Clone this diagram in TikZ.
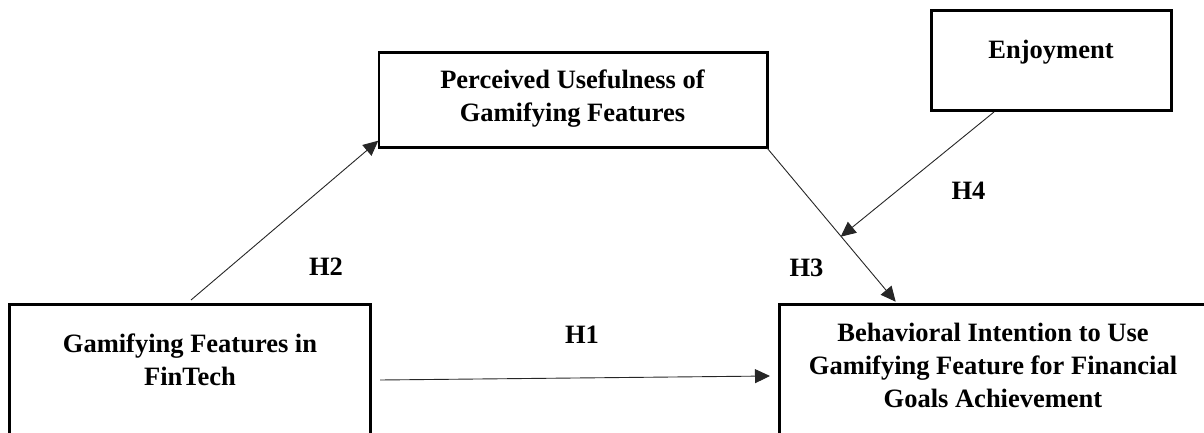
\documentclass[tikz,border=0pt]{standalone}
\usepackage{fontspec}
\setmainfont{Liberation Serif}
\usetikzlibrary{arrows.meta}
\tikzset{
  box/.style={draw=black, line width=2.6pt, rectangle, inner sep=0pt, outer sep=0pt, anchor=north west},
  txt/.style={inner sep=0pt, outer sep=0pt, align=center, font=\bfseries\fontsize{26.5}{33}\selectfont},
  conn/.style={draw=black!85, line width=0.9pt, -{Triangle[length=15pt,width=14pt]}}
}
\begin{document}
\begin{tikzpicture}[x=1pt,y=-1pt]
\useasboundingbox (0,0) rectangle (1204,433);
\clip (0,0) rectangle (1204,433);
% boxes
\node[box, minimum width=361.2pt, minimum height=170pt] (g) at (9.5,304.5) {};
\node[box, minimum width=430pt, minimum height=170pt] (b) at (779.5,304.7) {};
\node[box, minimum width=388.5pt, minimum height=95pt] (p) at (378.8,52.3) {};
\node[box, minimum width=240pt, minimum height=100pt] (e) at (931.3,10.7) {};
% texts
\node[txt, anchor=north] (gt) at (190,333.7) {Gamifying Features in\\FinTech};
\node[txt, anchor=north] (pt) at (572.5,70) {Perceived Usefulness of\\Gamifying Features};
\node[txt, anchor=base] (et) at (1051,59) {Enjoyment};
\node[txt, anchor=north] (bt) at (993,323.4) {Behavioral Intention to Use\\Gamifying Feature for Financial\\Goals Achievement};
% labels
\node[txt, anchor=base] (h1) at (582,343) {H1};
\node[txt, anchor=base] (h2) at (326,275) {H2};
\node[txt, anchor=base] (h3) at (806.5,276) {H3};
\node[txt, anchor=base] (h4) at (968.5,199) {H4};
% connector points
\coordinate (g2) at (191,300);
\coordinate (p2) at (378.3,140.7);
\coordinate (p3) at (767.3,148.3);
\coordinate (b3) at (895.7,301.7);
\coordinate (e4) at (994,112);
\coordinate (m4) at (840.7,236.7);
\coordinate (g1) at (380,380);
\coordinate (b1) at (770,376);
% connectors
\draw[conn] (g1) -- (b1);
\draw[conn] (g2) -- (p2);
\draw[conn] (p3) -- (b3);
\draw[conn] (e4) -- (m4);
\end{tikzpicture}
\end{document}
